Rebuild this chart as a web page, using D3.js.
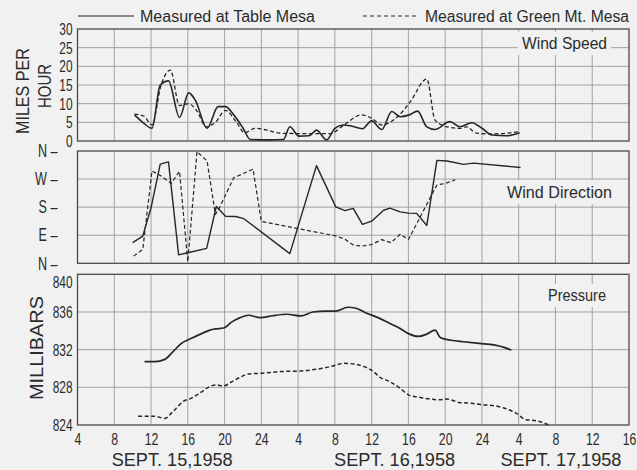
<!DOCTYPE html>
<html><head><meta charset="utf-8">
<script src="https://cdn.jsdelivr.net/npm/d3@7"></script>
<style>
body{margin:0;background:#f1f1f1}
svg{display:block}
text{font-family:"Liberation Sans","DejaVu Sans",sans-serif;fill:#2b2b2b}
</style>
</head><body>
<svg id="chart" width="637" height="470"></svg>
<script>
// Time axis: hours counted from 00:00, Sept. 15, 1958
const hourTicks = d3.range(4, 65, 4);
const hourLabels = ["4","8","12","16","20","24","4","8","12","16","20","24","4","8","12","16"];
const dateLabels = ["SEPT. 15,1958", "SEPT. 16,1958", "SEPT. 17,1958"];
const dateHours = [14.3, 38.5, 56.6];

const speedTicks = [0, 5, 10, 15, 20, 25, 30];
const dirTicks = [0, 90, 180, 270, 360];
const dirLabels = ["N", "E", "S", "W", "N"];
const pressTicks = [824, 828, 832, 836, 840];

// Wind speed, miles per hour
const speedTableHours = [10.2, 11.1, 12.1, 13.0, 13.9, 15.1, 16.1, 16.8, 18.1, 19.3, 20.1, 21.0, 22.0, 22.8, 24.9, 26.4, 27.1, 28.1, 29.2, 30.0, 31.1, 32.0, 32.9, 33.8, 35.0, 36.0, 37.1, 38.2, 39.1, 40.1, 41.0, 42.0, 42.9, 44.5, 45.6, 46.9, 48.0, 49.1, 50.7, 52.1];
const speedTable = [7.0, 5.0, 3.4, 15.0, 16.1, 6.3, 12.9, 11.0, 3.4, 9.2, 9.2, 7.0, 3.5, 0.4, 0.3, 0.4, 3.8, 1.3, 1.4, 2.9, 0.3, 3.4, 4.3, 4.0, 3.3, 5.4, 3.1, 7.9, 6.5, 7.0, 8.0, 3.8, 3.1, 5.2, 3.8, 4.9, 3.4, 1.6, 1.4, 2.2];
const speedGreenHours = [10.2, 11.2, 12.1, 13.1, 14.1, 15.1, 16.1, 17.0, 18.0, 19.0, 20.1, 21.3, 22.2, 23.3, 24.5, 26.0, 28.0, 31.5, 33.0, 34.9, 36.0, 37.1, 38.9, 40.2, 42.0, 42.9, 44.2, 45.6, 46.3, 47.4, 49.2, 52.1];
const speedGreen = [7.2, 6.7, 4.3, 15.0, 19.0, 9.5, 10.0, 8.0, 3.8, 5.0, 8.2, 5.0, 2.2, 3.4, 3.0, 2.1, 2.0, 2.0, 4.3, 7.0, 6.1, 4.3, 6.7, 10.5, 16.6, 5.6, 3.8, 3.4, 3.8, 2.1, 1.9, 2.5];

// Wind direction, degrees (N = 0 / 360, E = 90, S = 180, W = 270)
const dirTableHours = [10.0, 11.1, 12.0, 13.0, 13.9, 15.0, 16.0, 18.05, 19.1, 20.1, 21.2, 22.1, 27.1, 30.0, 32.1, 33.1, 34.0, 35.0, 36.0, 37.3, 38.0, 39.1, 40.0, 40.9, 42.0, 43.1, 44.2, 46.0, 47.1, 52.2];
const dirTable = [66, 87, 178, 318, 325, 27, 34, 48, 182, 151, 150, 143, 31, 313, 181, 169, 176, 125, 135, 170, 177, 165, 161, 160, 121, 330, 328, 317, 321, 307];
const dirGreenHours = [10.1, 11.1, 12.1, 13.1, 14.2, 15.1, 16.0, 17.0, 18.1, 19.0, 19.4, 21.0, 23.1, 24.0, 32.1, 33.1, 34.05, 34.9, 36.0, 37.1, 38.1, 39.1, 40.0, 41.1, 42.2, 43.1, 44.0, 45.1];
const dirGreen = [23, 44, 296, 280, 256, 295, 5, 358, 328, 157, 176, 274, 302, 134, 88, 77, 58, 55, 60, 76, 66, 93, 76, 138, 201, 251, 256, 268];

// Station pressure, millibars
const pressTableHours = [11.3, 12.4, 13.5, 14.4, 15.3, 16.4, 17.5, 18.4, 19.0, 19.9, 20.8, 21.7, 22.6, 23.9, 25.2, 26.8, 28.3, 29.6, 31.0, 32.1, 33.4, 34.3, 35.4, 36.7, 38.0, 39.1, 40.0, 41.1, 42.0, 42.9, 43.5, 44.65, 46.0, 47.7, 49.3, 50.4, 51.2];
const pressTable = [830.73, 830.73, 830.97, 831.8, 832.66, 833.2, 833.7, 834.07, 834.2, 834.3, 834.95, 835.4, 835.65, 835.4, 835.6, 835.76, 835.58, 836.0, 836.1, 836.1, 836.5, 836.4, 835.9, 835.4, 834.77, 834.25, 833.7, 833.4, 833.65, 834.07, 833.26, 833.0, 832.84, 832.66, 832.5, 832.24, 831.96];
const pressGreenHours = [10.6, 12.4, 13.5, 14.4, 15.5, 16.4, 17.3, 18.4, 19.0, 19.9, 20.8, 21.7, 22.6, 24.1, 26.1, 28.3, 30.5, 31.8, 32.9, 34.05, 35.2, 36.2, 36.9, 38.0, 39.1, 40.0, 41.1, 42.2, 43.3, 44.2, 45.5, 46.9, 48.0, 49.1, 50.4, 51.7, 52.8, 53.9, 55.3];
const pressGreen = [824.92, 824.92, 824.7, 825.44, 826.5, 826.85, 827.38, 828.08, 828.26, 828.15, 828.6, 829.07, 829.42, 829.5, 829.67, 829.74, 830.0, 830.27, 830.55, 830.48, 830.2, 829.67, 829.07, 828.6, 827.9, 827.2, 826.96, 826.78, 826.68, 826.75, 826.4, 826.3, 826.15, 826.08, 825.8, 825.27, 824.56, 824.46, 824.0];

const svg = d3.select("#chart");
const BG = "#f1f1f1", INK = "#262626", GRID = "#9a9a9a";
svg.append("rect").attr("width", 637).attr("height", 470).attr("fill", BG);

const x = d3.scaleLinear().domain([4, 64]).range([77.5, 629]);
const ySpeed = d3.scaleLinear().domain([0, 30]).range([141, 29]);
const yDir = d3.scaleLinear().domain([0, 360]).range([263.3, 151]);
const yPress = d3.scaleLinear().domain([824, 840]).range([425, 274.3]);

// squeeze tick lettering horizontally (narrow drafting numerals)
function condense(sel, k) {
  sel.each(function () {
    const t = d3.select(this);
    const tx = +t.attr("x") || 0;
    t.attr("x", 0).attr("transform", `translate(${tx},0) scale(${k},1)`);
  });
}

function panel(y, ticks) {
  const g = svg.append("g");
  const [yb, yt] = y.range();
  g.selectAll(".vg").data(hourTicks.slice(1, -1)).join("line")
    .attr("x1", d => x(d)).attr("x2", d => x(d))
    .attr("y1", yt).attr("y2", yb)
    .attr("stroke", GRID).attr("stroke-width", 0.9);
  g.selectAll(".hg").data(ticks.slice(1, -1)).join("line")
    .attr("x1", x.range()[0]).attr("x2", x.range()[1])
    .attr("y1", d => y(d)).attr("y2", d => y(d))
    .attr("stroke", GRID).attr("stroke-width", 0.9);
  g.append("rect")
    .attr("x", x.range()[0]).attr("y", yt)
    .attr("width", x.range()[1] - x.range()[0]).attr("height", yb - yt)
    .attr("fill", "none").attr("stroke", "#4a4a4a").attr("stroke-width", 1.3);
  return g;
}

function titleBox(label, x0, base, len, size) {
  svg.append("rect").attr("x", x0 - 4).attr("y", base - size - 1)
    .attr("width", len + 8).attr("height", size + 7).attr("fill", BG);
  svg.append("text").attr("x", x0).attr("y", base)
    .attr("font-size", size).attr("textLength", len)
    .attr("lengthAdjust", "spacingAndGlyphs").text(label);
}

const gSpeed = panel(ySpeed, speedTicks);
const gDir = panel(yDir, dirTicks);
const gPress = panel(yPress, pressTicks);

// left axes
const axSpeed = svg.append("g").attr("transform", `translate(${x.range()[0]},0)`)
  .call(d3.axisLeft(ySpeed).tickValues(speedTicks).tickSize(0).tickPadding(5));
const axDir = svg.append("g").attr("transform", `translate(${x.range()[0]},0)`)
  .call(d3.axisLeft(yDir).tickValues(dirTicks).tickSize(0).tickPadding(20)
    .tickFormat((d, i) => dirLabels[i] + " \u2013"));
const axPress = svg.append("g").attr("transform", `translate(${x.range()[0]},0)`)
  .call(d3.axisLeft(yPress).tickValues(pressTicks).tickSize(0).tickPadding(5));
[axSpeed, axDir, axPress].forEach(a => {
  a.select(".domain").remove();
  a.selectAll("text").attr("font-size", 17).attr("fill", INK)
    .attr("font-family", "Liberation Sans, sans-serif");
});
axDir.selectAll("text").attr("font-size", 18);
axPress.selectAll(".tick text").attr("dy", (d, i) => i === pressTicks.length - 1 ? "0.75em" : "0.32em");
[axSpeed, axDir, axPress].forEach(a => condense(a.selectAll("text"), 0.7));

// bottom time axis
const axTime = svg.append("g").attr("transform", `translate(0,${yPress.range()[0]})`)
  .call(d3.axisBottom(x).tickValues(hourTicks).tickSize(0).tickPadding(8)
    .tickFormat((d, i) => hourLabels[i]));
axTime.select(".domain").remove();
axTime.selectAll("text").attr("font-size", 17).attr("fill", INK);
condense(axTime.selectAll("text"), 0.72);

svg.selectAll(".date").data(dateLabels).join("text")
  .attr("x", (d, i) => x(dateHours[i])).attr("y", 466)
  .attr("text-anchor", "middle").attr("font-size", 18)
  .attr("textLength", 121).attr("lengthAdjust", "spacingAndGlyphs")
  .text(d => d);

// axis titles
svg.append("text").attr("transform", "translate(29,91) rotate(-90)")
  .attr("text-anchor", "middle").attr("font-size", 19)
  .attr("textLength", 86).attr("lengthAdjust", "spacingAndGlyphs").text("MILES PER");
svg.append("text").attr("transform", "translate(51,86) rotate(-90)")
  .attr("text-anchor", "middle").attr("font-size", 19)
  .attr("textLength", 44).attr("lengthAdjust", "spacingAndGlyphs").text("HOUR");
svg.append("text").attr("transform", "translate(43,348) rotate(-90)")
  .attr("text-anchor", "middle").attr("font-size", 19)
  .attr("textLength", 104).attr("lengthAdjust", "spacingAndGlyphs").text("MILLIBARS");

// panel titles
titleBox("Wind Speed", 522, 49, 85, 16);
titleBox("Wind Direction", 507, 198, 105, 17);
titleBox("Pressure", 548, 301, 58, 16);

// legend
svg.append("line").attr("x1", 78).attr("x2", 134).attr("y1", 16).attr("y2", 16)
  .attr("stroke", INK).attr("stroke-width", 1.2);
svg.append("text").attr("x", 140).attr("y", 22).attr("font-size", 16)
  .attr("textLength", 175).attr("lengthAdjust", "spacingAndGlyphs").text("Measured at Table Mesa");
svg.append("line").attr("x1", 363).attr("x2", 418).attr("y1", 16).attr("y2", 16)
  .attr("stroke", INK).attr("stroke-width", 1.2).attr("stroke-dasharray", "4,3");
svg.append("text").attr("x", 425).attr("y", 22).attr("font-size", 16)
  .attr("textLength", 204).attr("lengthAdjust", "spacingAndGlyphs").text("Measured at Green Mt. Mesa");

// data lines
function drawLine(g, y, hours, vals, dashed, curve, w) {
  const line = d3.line().x(d => x(d[0])).y(d => y(d[1])).curve(curve);
  g.append("path").datum(d3.zip(hours, vals))
    .attr("d", line).attr("fill", "none")
    .attr("stroke", INK).attr("stroke-width", w)
    .attr("stroke-linejoin", "round")
    .attr("stroke-dasharray", dashed ? "4,2.5" : null);
}
drawLine(gSpeed, ySpeed, speedGreenHours, speedGreen, true, d3.curveMonotoneX, 1.3);
drawLine(gSpeed, ySpeed, speedTableHours, speedTable, false, d3.curveMonotoneX, 1.6);
drawLine(gDir, yDir, dirGreenHours, dirGreen, true, d3.curveLinear, 1.2);
drawLine(gDir, yDir, dirTableHours, dirTable, false, d3.curveLinear, 1.4);
drawLine(gPress, yPress, pressGreenHours, pressGreen, true, d3.curveMonotoneX, 1.5);
drawLine(gPress, yPress, pressTableHours, pressTable, false, d3.curveMonotoneX, 1.7);
</script>
</body></html>
